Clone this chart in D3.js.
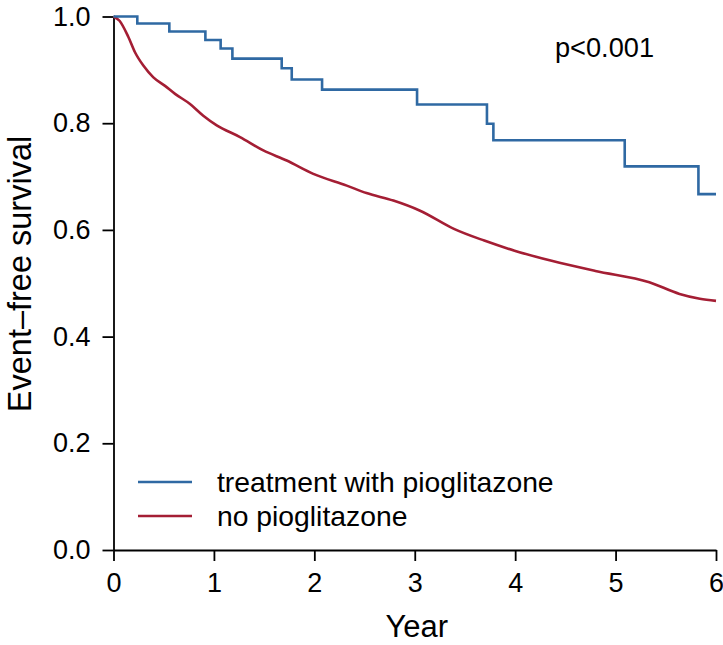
<!DOCTYPE html>
<html>
<head>
  <title>Event-free survival</title>
  <script src="https://d3js.org/d3.v7.min.js"></script>
  <style>
    body { margin: 0; background: #fff; }
    text { font-family: "Liberation Sans", Arial, sans-serif; fill: #000; }
  </style>
</head>
<body>

  <div id="chart"></div>
  <script type="text/javascript">

  // step points (year, survival)
  var pioTimes = [0, 0.237, 0.556, 0.915, 1.067, 1.184, 1.675, 1.775, 2.077, 3.023, 3.719, 3.783, 5.091, 5.825, 6.0];
  var pioSurv  = [1, 0.987, 0.972, 0.956, 0.940, 0.921, 0.903, 0.882, 0.863, 0.835, 0.799, 0.768, 0.719, 0.667, 0.667];

  var noTimes = [0, 0.06, 0.147, 0.214, 0.297, 0.397, 0.513, 0.613, 0.762, 0.894, 1.028, 1.26, 1.492, 1.725, 1.99,
                 2.323, 2.52, 2.787, 3.053, 3.39, 3.692, 3.994, 4.363, 4.799, 5.336, 5.637, 5.839, 6.0];
  var noSurv  = [1, 0.992, 0.962, 0.933, 0.908, 0.886, 0.870, 0.855, 0.836, 0.814, 0.796, 0.774, 0.749, 0.730, 0.705,
                 0.683, 0.669, 0.655, 0.636, 0.602, 0.580, 0.561, 0.542, 0.523, 0.502, 0.480, 0.471, 0.467];

  var xTicks = [0, 1, 2, 3, 4, 5, 6];
  var yTicks = [0, 0.2, 0.4, 0.6, 0.8, 1.0];
  var legendLabels = ["treatment with pioglitazone", "no pioglitazone"];
  var colors = ["#2f69a3", "#a41e34"];

  var W = 723, H = 645;
  var m = {top: 16.5, right: 7, bottom: 95, left: 113.5};

  var svg = d3.select("#chart").append("svg").attr("width", W).attr("height", H);
  var g = svg.append("g").attr("transform", "translate(" + m.left + "," + m.top + ")");
  var w = W - m.left - m.right, h = H - m.top - m.bottom;

  var x = d3.scaleLinear().domain([0, 6]).range([0, w]);
  var y = d3.scaleLinear().domain([0, 1]).range([h, 0]);

  var xAxis = g.append("g").attr("transform", "translate(0," + h + ")")
    .call(d3.axisBottom(x).tickValues(xTicks).tickFormat(d3.format("d")).tickSize(11).tickSizeOuter(0).tickPadding(12));
  var yAxis = g.append("g")
    .call(d3.axisLeft(y).tickValues(yTicks).tickFormat(d3.format(".1f")).tickSize(11).tickSizeOuter(0).tickPadding(12));

  [xAxis, yAxis].forEach(function(a){
    a.selectAll("path, line").attr("stroke", "#000").attr("stroke-width", 1.8);
    a.selectAll("text").style("font-size", "27px").style("font-family", "Liberation Sans, Arial, sans-serif");
  });

  var line = d3.line().x(function(d){ return x(d[0]); }).y(function(d){ return y(d[1]); });

  var noData = d3.zip(noTimes, noSurv);
  var pioData = d3.zip(pioTimes, pioSurv);

  g.append("path").datum(noData)
    .attr("fill", "none").attr("stroke", colors[1]).attr("stroke-width", 2.6)
    .attr("d", line.curve(d3.curveMonotoneX));
  g.append("path").datum(pioData)
    .attr("fill", "none").attr("stroke", colors[0]).attr("stroke-width", 2.6)
    .attr("d", line.curve(d3.curveStepAfter));

  // legend
  var leg = svg.selectAll(".leg").data(legendLabels).enter().append("g")
    .attr("class", "leg")
    .attr("transform", function(d, i){ return "translate(138," + (482 + i * 34) + ")"; });
  leg.append("line").attr("x1", 0).attr("x2", 54).attr("y1", 0).attr("y2", 0)
    .attr("stroke", function(d, i){ return colors[i]; }).attr("stroke-width", 2.6);
  leg.append("text").attr("x", 79).attr("y", 10).style("font-size", "28.3px").text(function(d){ return d; });

  svg.append("text").attr("x", 555).attr("y", 57).style("font-size", "27.2px").text("p<0.001");

  svg.append("text").attr("x", (m.left + W - m.right) / 2 + 2).attr("y", 637)
    .attr("text-anchor", "middle").style("font-size", "31px").text("Year");

  svg.append("text").attr("transform", "translate(31,274) rotate(-90)")
    .attr("text-anchor", "middle").style("font-size", "32.5px").text("Event\u2013free survival");

  </script>

</body>
</html>
